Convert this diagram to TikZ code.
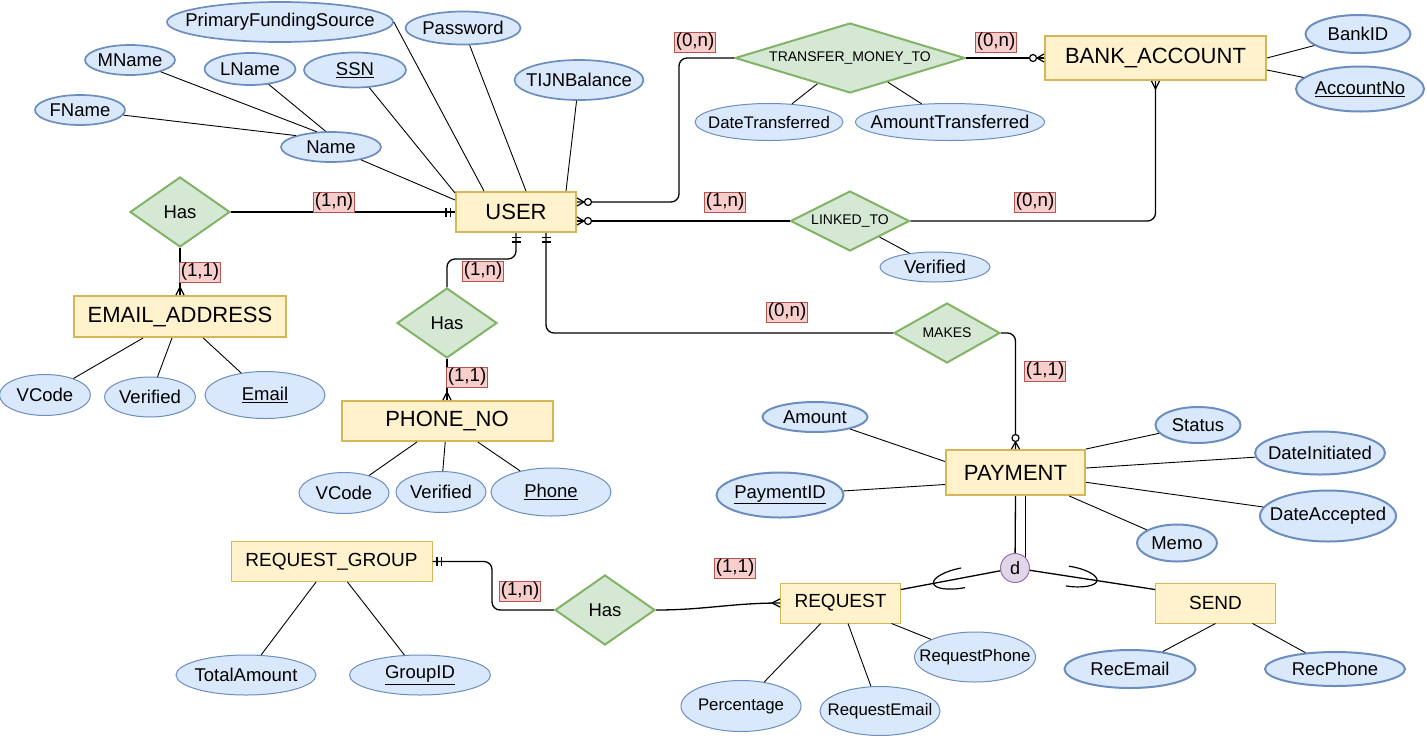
\documentclass[tikz,border=0pt]{standalone}
\usepackage{fontspec}
\setmainfont{Liberation Sans}
\usetikzlibrary{shapes.geometric}
\usetikzlibrary{decorations.markings}
\definecolor{entfill}{HTML}{FFF2CC}
\definecolor{entline}{HTML}{D6B656}
\definecolor{relfill}{HTML}{D5E8D4}
\definecolor{relline}{HTML}{82B366}
\definecolor{attfill}{HTML}{DAE8FC}
\definecolor{attline}{HTML}{6C8EBF}
\definecolor{cardfill}{HTML}{F8CECC}
\definecolor{cardline}{HTML}{B85450}
\definecolor{disfill}{HTML}{E1D5E7}
\definecolor{disline}{HTML}{9673A6}
\newcommand{\fsz}[1]{\fontsize{#1}{#1}\selectfont}
\tikzset{
  entity/.style={rectangle,draw=entline,fill=entfill,line width=2pt,inner sep=0pt,font=\fsz{22}},
  wentity/.style={entity,line width=1pt,font=\fsz{19}},
  rel/.style={diamond,draw=relline,fill=relfill,line width=2pt,inner sep=0pt,aspect=1.43,font=\fsz{18.5}},
  srel/.style={rel,aspect=3.3,font=\fsz{14}},
  attr/.style={ellipse,draw=attline,fill=attfill,line width=1pt,inner xsep=-16pt,inner ysep=0pt,font=\fsz{18.5}},
  tattr/.style={attr,line width=2pt},
  mattr/.style={attr,line width=1.7pt},
  sattr/.style={attr,font=\fsz{16.8}},
  asize/.style 2 args={minimum width=#1pt,minimum height=#2pt},
  card/.style={rectangle,draw=cardline,fill=cardfill,line width=.8pt,inner xsep=1pt,inner ysep=0pt,minimum height=20pt,font=\fsz{18.7}},
  disj/.style={circle,draw=disline,fill=disfill,line width=1pt,minimum size=29pt,inner sep=0pt,font=\fsz{18}},
  conn/.style={line width=1.3pt},
  aline/.style={line width=.9pt},
  onlyone/.style={postaction={decorate,decoration={markings,mark=at position 1 with {\draw[line width=1.2pt,sharp corners] (-4.5pt,-4.5pt) -- (-4.5pt,4.5pt) (-9pt,-4.5pt) -- (-9pt,4.5pt);}}}},
  crow/.style={postaction={decorate,decoration={markings,mark=at position 1 with {\draw[line width=1.2pt,sharp corners] (0pt,4pt) -- (-8pt,0pt) -- (0pt,-4pt);}}}},
  zmany/.style={postaction={decorate,decoration={markings,mark=at position 1 with {\draw[line width=1.2pt,sharp corners] (0pt,4pt) -- (-7pt,0pt) -- (0pt,-4pt); \draw[line width=1.2pt,fill=white] (-11pt,0pt) circle (3.5pt);}}}},
  subset/.style={postaction={decorate,decoration={markings,mark=at position 38pt with {\draw[line width=1.2pt,sharp corners] (0pt,10pt) arc[start angle=90,end angle=-90,x radius=30pt,y radius=10pt];}}}}
}
\begin{document}
\begin{tikzpicture}[x=1pt,y=-1pt]
\useasboundingbox (0,0) rectangle (1427,737);
\node[entity,minimum width=120pt,minimum height=40pt] (USER) at (516,212) {USER};
\node[entity,minimum width=221pt,minimum height=44pt] (BANK) at (1155.5,58) {BANK\_ACCOUNT};
\node[entity,minimum width=212pt,minimum height=41pt] (EMAIL) at (180,316.5) {EMAIL\_ADDRESS};
\node[entity,minimum width=211pt,minimum height=40pt] (PHONE) at (447,421) {PHONE\_NO};
\node[entity,minimum width=139pt,minimum height=45pt] (PAY) at (1015.5,472.5) {PAYMENT};
\node[wentity,minimum width=201pt,minimum height=40pt] (RG) at (331.5,561.5) {REQUEST\_GROUP};
\node[wentity,minimum width=120pt,minimum height=40pt] (REQ) at (840.5,603) {REQUEST};
\node[wentity,minimum width=120pt,minimum height=40pt] (SEND) at (1215.5,603) {SEND};

\node[rel,minimum width=100pt,minimum height=70pt] (has1) at (180,212) {Has};
\node[rel,minimum width=100pt,minimum height=70pt] (has2) at (447,323) {Has};
\node[srel,minimum width=230pt,minimum height=70pt] (tmt) at (850,58) {TRANSFER\_MONEY\_TO};
\node[srel,minimum width=110pt,minimum height=60pt] (lt) at (850,221) {LINKED\_TO};
\node[srel,minimum width=106pt,minimum height=60pt] (mk) at (947,333) {MAKES};
\node[rel,minimum width=100pt,minimum height=70pt] (has3) at (605,610) {Has};
\node[disj] (dd) at (1015,568) {d};

\node[mattr,asize={90}{30}] (FName) at (80,110) {FName};
\node[mattr,asize={90}{30}] (MName) at (130,60) {MName};
\node[mattr,asize={91}{32}] (LName) at (250,69) {LName};
\node[mattr,asize={100}{30}] (Name) at (331,147) {Name};
\node[mattr,asize={102}{35}] (SSN) at (355,70) {\underline{SSN}};
\node[mattr,asize={226}{40}] (PFS) at (280,22) {PrimaryFundingSource};
\node[mattr,asize={115}{33}] (Pass) at (463,28) {Password};
\node[mattr,asize={129}{40}] (TIJN) at (579,80) {TIJNBalance};
\node[tattr,asize={105}{38}] (BankID) at (1358,34) {BankID};
\node[tattr,asize={128}{45}] (AccNo) at (1360,89) {\underline{AccountNo}};
\node[sattr,asize={148}{37}] (DateT) at (769,122) {DateTransferred};
\node[attr,asize={189}{37}] (AmtT) at (950,122) {AmountTransferred};
\node[attr,asize={110}{30}] (VerL) at (935,267) {Verified};
\node[attr,asize={91}{41}] (VCodeE) at (45,395) {VCode};
\node[attr,asize={91}{40}] (VerE) at (150,397) {Verified};
\node[attr,asize={120}{47}] (Email) at (265,395) {\underline{Email}};
\node[attr,asize={90}{41}] (VCodeP) at (344,493) {VCode};
\node[attr,asize={90}{41}] (VerP) at (441,492) {Verified};
\node[attr,asize={120}{48}] (Phone) at (551,492) {\underline{Phone}};
\node[tattr,asize={105}{30}] (Amount) at (815,417) {Amount};
\node[tattr,asize={127}{45}] (PayID) at (780,495) {\underline{PaymentID}};
\node[tattr,asize={85}{36}] (Status) at (1198,425) {Status};
\node[tattr,asize={130}{43}] (DateI) at (1320,453) {DateInitiated};
\node[tattr,asize={136}{51}] (DateA) at (1328,516) {DateAccepted};
\node[tattr,asize={80}{37}] (Memo) at (1177,543) {Memo};
\node[attr,asize={140}{40}] (Total) at (246,675) {TotalAmount};
\node[attr,asize={141}{40}] (GroupID) at (420,675) {\underline{GroupID}};
\node[sattr,asize={120}{51}] (Perc) at (741,706) {Percentage};
\node[sattr,asize={120}{49}] (ReqE) at (880,711) {RequestEmail};
\node[sattr,asize={121}{50}] (ReqP) at (975,657) {RequestPhone};
\node[tattr,asize={131}{38}] (RecE) at (1130,669) {RecEmail};
\node[tattr,asize={140}{34}] (RecP) at (1335,669) {RecPhone};

\draw[aline] (FName) -- (Name.162);
\draw[aline] (MName) -- (Name.133);
\draw[aline] (LName) -- (Name.109);
\draw[aline] (Name) -- ([yshift=-9pt]USER.north west);
\draw[aline] (SSN) -- ([yshift=-2pt]USER.north west);
\draw[aline] (PFS.east) -- ([xshift=29pt]USER.north west);
\draw[aline] (Pass) -- ([xshift=71pt]USER.north west);
\draw[aline] (TIJN) -- ([xshift=111pt]USER.north west);
\draw[aline] (BankID) -- (BANK.east);
\draw[aline] (AccNo) -- ([yshift=-12pt]BANK.east);
\draw[aline] (DateT) -- (tmt);
\draw[aline] (AmtT) -- (tmt);
\draw[aline] (VerL) -- (lt);
\draw[aline] (VCodeE) -- (EMAIL);
\draw[aline] (VerE) -- (EMAIL);
\draw[aline] (Email) -- (EMAIL);
\draw[aline] (VCodeP) -- (PHONE);
\draw[aline] (VerP) -- (PHONE);
\draw[aline] (Phone) -- (PHONE);
\draw[aline] (Amount) -- ([yshift=11pt]PAY.west);
\draw[aline] (PayID) -- ([yshift=-12pt]PAY.west);
\draw[aline] (Status) -- (PAY.north east);
\draw[aline] (DateI) -- (PAY);
\draw[aline] (DateA) -- (PAY);
\draw[aline] (Memo) -- (PAY);
\draw[aline] (Total) -- (RG);
\draw[aline] (GroupID) -- (RG);
\draw[aline] (Perc) -- (REQ);
\draw[aline] (ReqE) -- (REQ);
\draw[aline] (ReqP) -- (REQ);
\draw[aline] (RecE) -- (SEND.south);
\draw[aline] (RecP) -- (SEND);

\draw[conn,onlyone] (has1) -- (USER);
\draw[conn,crow] (has1) -- (EMAIL);
\draw[conn,onlyone,rounded corners=8pt] (has2.north) -- ++(0,-28) -| (USER.south);
\draw[conn,crow] (has2) -- (PHONE);
\draw[conn,zmany,rounded corners=8pt] (tmt.west) -- ++(-55,0) |- ([yshift=10pt]USER.east);
\draw[conn,zmany] (tmt) -- (BANK);
\draw[conn,zmany] (lt.west) -- (lt.west -| USER.east);
\draw[conn,crow,rounded corners=8pt] (lt.east) -| (BANK.south);
\draw[conn,onlyone,rounded corners=8pt] (mk.west) -| ([xshift=30pt]USER.south);
\draw[conn,zmany,rounded corners=8pt] (mk.east) -| (PAY.north);
\draw[conn] (PAY.south) -- (dd);
\draw[conn] (dd.45) -- (dd.45 |- PAY.south);
\draw[conn,subset] (dd) -- ([yshift=-7pt]REQ.north east);
\draw[conn,subset] (dd) -- ([yshift=-7pt]SEND.north west);
\draw[conn,onlyone,rounded corners=8pt] (has3.west) -- ++(-62,0) |- (RG.east);
\draw[conn,crow] (has3.east) to[out=0,in=180] (REQ.west);

\node[card] (c1) at (334,202) {(1,n)};
\node[card] (c2) at (200,272) {(1,1)};
\node[card] (c3) at (483,271) {(1,n)};
\node[card] (c4) at (467,377) {(1,1)};
\node[card] (c5) at (695,42) {(0,n)};
\node[card] (c6) at (996,42) {(0,n)};
\node[card] (c7) at (725,202) {(1,n)};
\node[card] (c8) at (1035,202) {(0,n)};
\node[card] (c9) at (787,312) {(0,n)};
\node[card] (c10) at (1045,371) {(1,1)};
\node[card] (c11) at (520,591) {(1,n)};
\node[card] (c12) at (735,568) {(1,1)};
\end{tikzpicture}
\end{document}
